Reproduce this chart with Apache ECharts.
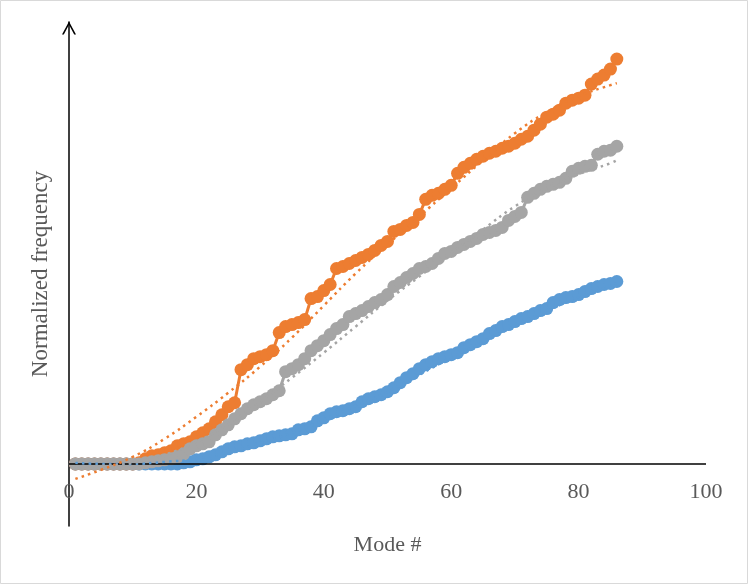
<!DOCTYPE html>
<html><head><meta charset="utf-8">
<script src="https://cdn.jsdelivr.net/npm/echarts@6/dist/echarts.min.js"></script>
<style>html,body{margin:0;padding:0;background:#fff}#chart{width:748px;height:584px}</style>
</head><body><div id="chart"></div>
<script>
const modes = [1,2,3,4,5,6,7,8,9,10,11,12,13,14,15,16,17,18,19,20,21,22,23,24,25,26,27,28,29,30,31,32,33,34,35,36,37,38,39,40,41,42,43,44,45,46,47,48,49,50,51,52,53,54,55,56,57,58,59,60,61,62,63,64,65,66,67,68,69,70,71,72,73,74,75,76,77,78,79,80,81,82,83,84,85,86];
const blueVals = [0,0,0,0,0,0,0,0,0,0,
  0,0,0,0,0,0,0,0.01,0.02,0.04,
  0.05,0.07,0.09,0.12,0.15,0.17,0.18,0.20,0.21,0.23,
  0.25,0.27,0.28,0.29,0.30,0.34,0.35,0.37,0.43,0.46,
  0.50,0.52,0.53,0.55,0.57,0.62,0.65,0.67,0.69,0.72,
  0.76,0.81,0.86,0.90,0.95,0.99,1.02,1.05,1.07,1.09,
  1.11,1.16,1.19,1.22,1.25,1.30,1.33,1.37,1.39,1.42,
  1.45,1.47,1.50,1.53,1.55,1.61,1.64,1.66,1.67,1.69,
  1.72,1.75,1.77,1.79,1.80,1.82];
const orangeVals = [0,0,0,0,0,0,0,0,0,0,
  0.01,0.05,0.08,0.09,0.11,0.13,0.18,0.20,0.22,0.27,
  0.31,0.35,0.42,0.49,0.57,0.61,0.94,0.99,1.05,1.07,
  1.09,1.13,1.31,1.37,1.39,1.41,1.44,1.65,1.67,1.73,
  1.79,1.95,1.97,2.00,2.03,2.06,2.09,2.13,2.18,2.22,
  2.32,2.34,2.38,2.41,2.49,2.64,2.68,2.70,2.74,2.78,
  2.90,2.96,3.00,3.04,3.07,3.10,3.12,3.15,3.17,3.20,
  3.24,3.27,3.33,3.39,3.46,3.49,3.53,3.60,3.63,3.65,
  3.68,3.79,3.84,3.88,3.94,4.04];
const grayVals = [0,0,0,0,0,0,0,0,0,0,
  0,0.01,0.02,0.03,0.04,0.05,0.07,0.10,0.15,0.18,
  0.20,0.22,0.29,0.34,0.39,0.45,0.50,0.55,0.59,0.62,
  0.65,0.69,0.73,0.92,0.95,0.99,1.05,1.13,1.18,1.23,
  1.29,1.35,1.39,1.47,1.50,1.53,1.57,1.61,1.64,1.69,
  1.77,1.81,1.86,1.90,1.95,1.97,2.00,2.05,2.10,2.12,
  2.16,2.19,2.22,2.25,2.29,2.31,2.33,2.36,2.43,2.47,
  2.51,2.66,2.70,2.74,2.77,2.79,2.81,2.85,2.92,2.95,
  2.97,2.98,3.09,3.12,3.13,3.17];
// trendlines
const trendModes = [1,5,10,15,20,25,30,35,40,45,50,55,60,65,70,75,80,85,86];
const orangeTrend = [-0.15,-0.06,0.07,0.25,0.47,0.71,0.97,1.26,1.58,1.90,2.19,2.47,2.75,3.03,3.30,3.51,3.67,3.78,3.80];
const grayTrend = [-0.03,-0.02,0.01,0.09,0.22,0.40,0.62,0.86,1.11,1.37,1.63,1.87,2.11,2.34,2.57,2.75,2.89,3.00,3.03];
const blueTrend = [0.01,0.00,0.00,0.02,0.05,0.12,0.21,0.31,0.44,0.58,0.72,0.89,1.06,1.22,1.38,1.53,1.66,1.78,1.80];
const xTicks = [0,20,40,60,80,100];

const BLUE='#5B9BD5', ORANGE='#ED7D31', GRAY='#A5A5A5';
const FONT='"Liberation Serif","Times New Roman",serif';
const pairs = (xs, ys) => xs.map((x,i)=>[x, ys[i]]);

function dataSeries(vals, color, z){
  return {type:'line', data: pairs(modes, vals), symbol:'circle', symbolSize:13,
    itemStyle:{color}, lineStyle:{color, width:3}, z, silent:true};
}
function trendSeries(vals, color){
  return {type:'line', data: pairs(trendModes, vals), smooth:true, symbol:'none',
    lineStyle:{color, width:2.5, type:[2.5,4.2], cap:'butt'}, z:5, silent:true};
}

const blueSeries = dataSeries(blueVals, BLUE, 2);
blueSeries.markLine = {silent:true, symbol:['none','none'], label:{show:false},
  lineStyle:{type:'solid', color:'#000', width:1.5}, data:[{yAxis:0}]};

const chart = echarts.init(document.getElementById('chart'), null, {renderer:'canvas'});
chart.setOption({
  animation:false,
  backgroundColor:'#fff',
  graphic:[{type:'rect', shape:{x:0.5,y:0.5,width:747,height:583}, style:{fill:'none', stroke:'#d9d9d9', lineWidth:1}, silent:true}],
  grid:{left:69, right:42, top:22, bottom:58, containLabel:false, outerBoundsMode:'none'},
  xAxis:{type:'value', min:xTicks[0], max:xTicks[xTicks.length-1], interval:20,
    axisLine:{show:false, onZero:false},
    axisTick:{show:false}, splitLine:{show:false},
    axisLabel:{margin:-45, color:'#595959', fontSize:22, fontFamily:FONT},
    name:'Mode #', nameLocation:'middle', nameGap:8,
    nameTextStyle:{color:'#595959', fontSize:22, fontFamily:FONT}},
  yAxis:{type:'value', min:-0.62, max:4.41,
    axisLine:{show:true, onZero:false, lineStyle:{color:'#000', width:1.5},
      symbol:['none','path://M0,13 L7,0 L14,13 L12.2,13 L7,3.3 L1.8,13 Z'], symbolSize:[14,13], symbolOffset:[0,-6]},
    axisTick:{show:false}, splitLine:{show:false}, axisLabel:{show:false},
    name:'Normalized frequency', nameLocation:'middle', nameGap:17,
    nameTextStyle:{color:'#595959', fontSize:23, fontFamily:FONT}},
  series:[
    blueSeries,
    dataSeries(orangeVals, ORANGE, 3),
    dataSeries(grayVals, GRAY, 4),
    trendSeries(blueTrend, BLUE),
    trendSeries(orangeTrend, ORANGE),
    trendSeries(grayTrend, GRAY)
  ]
});
</script></body></html>
